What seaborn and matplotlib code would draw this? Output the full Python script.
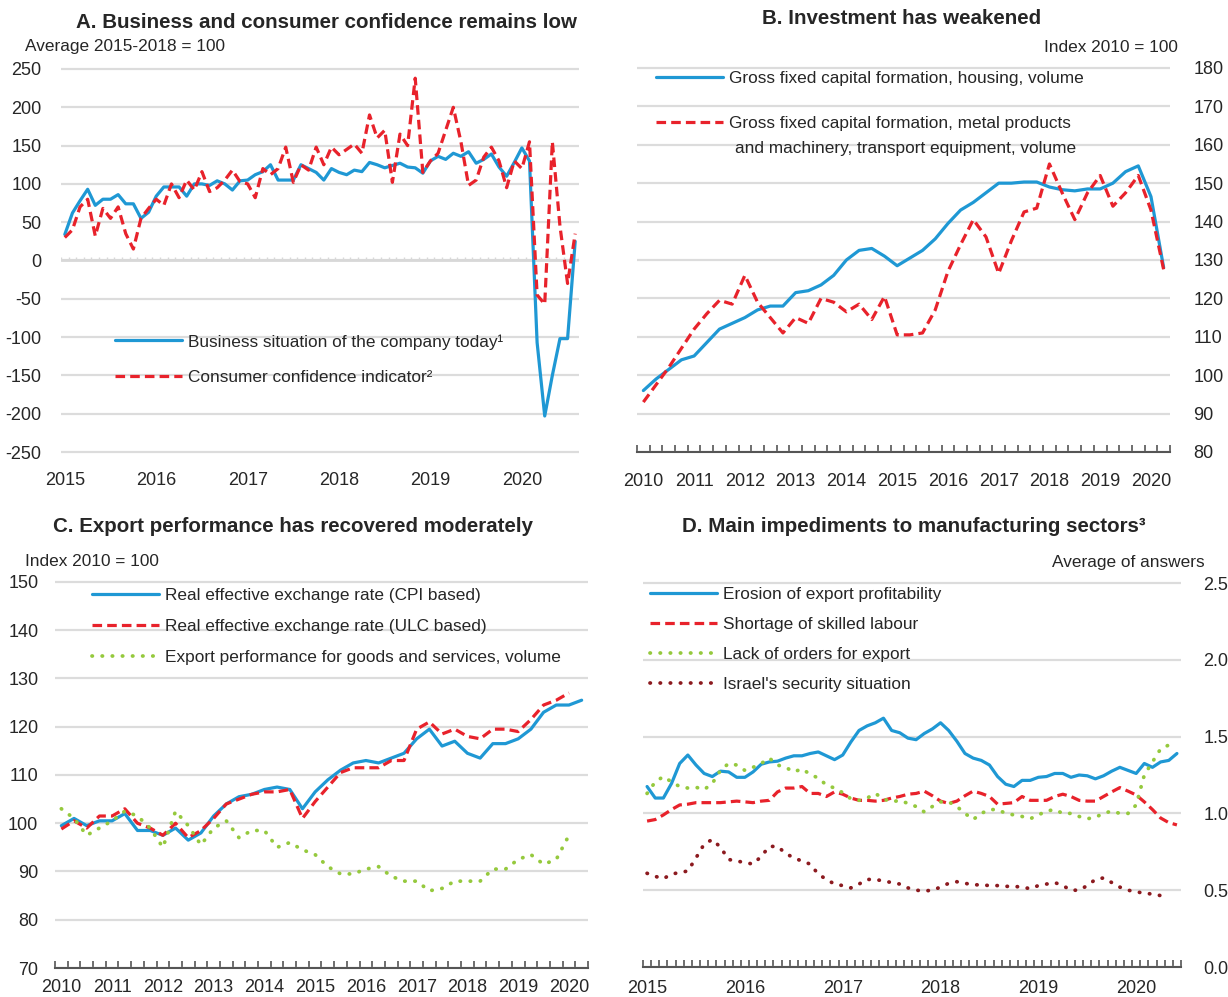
import numpy as np
import pandas as pd
import matplotlib
matplotlib.use('Agg')
import matplotlib.pyplot as plt
import seaborn as sns

# A. monthly, 2015-01 .. 2020-08
years_a = ['2015', '2016', '2017', '2018', '2019', '2020']
business = [34, 62, 78, 93, 72, 80, 80, 86, 74, 74, 55, 63,
            84, 96, 96, 96, 84, 100, 100, 98, 104, 100, 92, 104,
            105, 112, 116, 125, 105, 105, 105, 125, 120, 115, 105, 120,
            115, 112, 118, 116, 128, 125, 121, 124, 127, 122, 121, 114,
            130, 136, 132, 140, 136, 142, 127, 132, 139, 122, 110, 128,
            147, 130, -107, -203, -150, -102, -102, 25]
consumer = [30, 40, 70, 80, 32, 68, 55, 70, 35, 15, 55, 68,
            80, 72, 100, 82, 105, 92, 116, 90, 95, 105, 118, 103,
            100, 82, 120, 112, 120, 148, 102, 125, 118, 148, 125, 148,
            138, 145, 152, 140, 190, 160, 170, 102, 165, 150, 238, 115,
            130, 140, 170, 200, 155, 98, 105, 135, 148, 130, 95, 130,
            120, 155, -45, -57, 155, 45, -30, 35]

# B. quarterly, 2010Q1 .. 2020Q2
years_b = [str(y) for y in range(2010, 2021)]
housing = [96, 99, 101.5, 104, 105, 108.5, 112, 113.5, 115, 117, 118, 118,
           121.5, 122, 123.5, 126, 130, 132.5, 133, 131, 128.5, 130.5, 132.5, 135.5,
           139.5, 143, 145, 147.5, 150, 150, 150.3, 150.3, 149, 148.3, 148, 148.5,
           148.5, 150, 153, 154.5, 146.5, 128]
machinery = [93, 97.5, 102, 107, 112, 116, 119.5, 118.5, 126, 119, 115, 111,
             115, 113.5, 120, 119, 116.5, 118.5, 114.5, 120.5, 110.5, 110.5, 111, 117,
             127, 134, 140.5, 136, 126.5, 135, 142.5, 143.5, 155, 147.5, 140.5, 147.5,
             152, 144, 147.5, 152, 143, 127.5]

# C. quarterly, 2010Q1 .. 2020Q2
years_c = [str(y) for y in range(2010, 2021)]
reer_cpi = [99.5, 101, 99.5, 100.5, 100.5, 102, 98.5, 98.5, 97.5, 99, 96.5, 98,
            101.5, 104, 105.5, 106, 107, 107.5, 107, 103, 106.5, 109, 111, 112.5,
            113, 112.5, 113.5, 114.5, 117.5, 119.5, 116, 117, 114.5, 113.5, 116.5, 116.5,
            117.5, 119.5, 123, 124.5, 124.5, 125.5]
reer_ulc = [98.8, 100.5, 99, 101.5, 101.5, 103, 100, 99, 97.5, 100, 97, 98.5,
            101, 104, 105, 106, 106.5, 106.5, 107, 101, 104.5, 107.5, 110.5, 111.5,
            111.5, 111.5, 113, 113, 119.5, 121, 118.5, 119.5, 118, 117.5, 119.5, 119.5,
            119, 121.5, 124.5, 125.5, 127]
export_perf = [103, 101, 97.5, 99, 100.5, 102.5, 101.5, 99, 95, 102.5, 99.5, 95.5,
               99, 100.5, 97, 98.5, 98.5, 95, 96, 94.5, 93.5, 91, 89.5, 89.5,
               90.5, 91, 89, 88, 88, 86, 86.5, 88, 88, 88, 90.5, 90.5,
               92.5, 93.5, 91.5, 92.5, 97.5]

# D. monthly, 2015-01 .. 2020-06
years_d = ['2015', '2016', '2017', '2018', '2019', '2020']
erosion = [1.175, 1.10, 1.10, 1.195, 1.325, 1.38, 1.315, 1.26, 1.24, 1.275, 1.27, 1.235,
           1.235, 1.27, 1.32, 1.335, 1.34, 1.36, 1.375, 1.375, 1.39, 1.40, 1.375, 1.35,
           1.38, 1.465, 1.54, 1.57, 1.59, 1.62, 1.54, 1.525, 1.49, 1.48, 1.52, 1.55,
           1.59, 1.54, 1.47, 1.39, 1.36, 1.345, 1.315, 1.24, 1.19, 1.175, 1.215, 1.215,
           1.235, 1.24, 1.26, 1.26, 1.235, 1.25, 1.245, 1.225, 1.245, 1.275, 1.30, 1.28,
           1.26, 1.325, 1.30, 1.335, 1.345, 1.39]
skilled = [0.95, 0.96, 0.99, 1.025, 1.055, 1.06, 1.07, 1.07, 1.07, 1.07, 1.075, 1.08,
           1.075, 1.07, 1.08, 1.085, 1.14, 1.165, 1.165, 1.175, 1.13, 1.13, 1.11, 1.14,
           1.125, 1.10, 1.085, 1.085, 1.08, 1.085, 1.10, 1.11, 1.125, 1.13, 1.145, 1.115,
           1.08, 1.065, 1.08, 1.115, 1.145, 1.13, 1.11, 1.06, 1.065, 1.07, 1.11, 1.085,
           1.085, 1.085, 1.11, 1.125, 1.11, 1.085, 1.08, 1.08, 1.11, 1.14, 1.168, 1.145,
           1.12, 1.075, 1.025, 0.97, 0.94, 0.925]
orders = [1.13, 1.205, 1.24, 1.205, 1.175, 1.165, 1.17, 1.155, 1.195, 1.28, 1.325, 1.315,
          1.28, 1.30, 1.325, 1.36, 1.315, 1.30, 1.27, 1.29, 1.255, 1.23, 1.185, 1.165,
          1.135, 1.095, 1.085, 1.10, 1.13, 1.095, 1.075, 1.085, 1.065, 1.045, 1.01, 1.045,
          1.075, 1.075, 1.045, 1.00, 0.96, 1.00, 1.025, 1.025, 1.00, 0.99, 0.98, 0.965,
          0.99, 1.015, 1.025, 1.00, 1.00, 0.98, 0.965, 0.975, 1.00, 1.015, 1.00, 1.00,
          1.055, 1.25, 1.335, 1.42, 1.445, 1.45]
security = [0.61, 0.59, 0.575, 0.605, 0.615, 0.625, 0.71, 0.80, 0.83, 0.78, 0.70, 0.69,
            0.68, 0.67, 0.72, 0.785, 0.785, 0.74, 0.71, 0.69, 0.67, 0.605, 0.57, 0.54,
            0.53, 0.515, 0.54, 0.57, 0.57, 0.56, 0.55, 0.54, 0.515, 0.50, 0.495, 0.50,
            0.52, 0.545, 0.555, 0.545, 0.535, 0.535, 0.53, 0.53, 0.525, 0.525, 0.52, 0.51,
            0.53, 0.54, 0.55, 0.53, 0.50, 0.50, 0.53, 0.57, 0.58, 0.55, 0.52, 0.50,
            0.49, 0.48, 0.475, 0.465, 0.465]

sns.set_theme(style='white')
plt.rcParams['font.family'] = ['Liberation Sans', 'DejaVu Sans']
plt.rcParams['axes.unicode_minus'] = False

BLUE = '#1f98d4'
RED = '#e8222b'
GREEN = '#95c93d'
DARKRED = '#8c1a1f'
GRID = '#dcdcdc'
TXT = '#262626'
SPINE = '#555555'
FS = 13      # tick labels
LFS = 12.4   # legend / unit text

W, H = 1228, 997
fig = plt.figure(figsize=(W / 100, H / 100), dpi=100)


def box(l, t, r, b):
    return [l / W, 1 - b / H, (r - l) / W, (b - t) / H]


solid = dict(lw=2.3)
dashed = dict(lw=2.3, linestyle=(0, (3, 1.6)))
dotted = dict(lw=2.7, linestyle=(0, (0.1, 2.6)), dash_capstyle='round')


def style_axes(ax, n, year_labels, step, side, ylim, yticks, ylab_pad, xlab_pad, spine=True):
    ax.set_xlim(-0.5, n - 0.5)
    ax.set_ylim(*ylim)
    ax.set_yticks(yticks)
    ax.set_xticks(np.arange(0, step * len(year_labels), step))
    ax.set_xticklabels(year_labels)
    ax.grid(False)
    ax.yaxis.grid(True, color=GRID, lw=1.6)
    ax.set_axisbelow(True)
    for s in ['top', 'left', 'right', 'bottom']:
        ax.spines[s].set_visible(False)
    if spine:
        ax.spines['bottom'].set_visible(True)
        ax.spines['bottom'].set_color(SPINE)
        ax.spines['bottom'].set_linewidth(1.5)
        ax.set_xticks(np.arange(-0.5, n, 1), minor=True)
        ax.tick_params(axis='x', which='minor', bottom=True, direction='in',
                       length=5, width=1.2, color=SPINE)
    ax.tick_params(axis='x', which='major', bottom=True, length=0, pad=xlab_pad,
                   labelsize=FS, labelcolor=TXT)
    if side == 'right':
        ax.yaxis.tick_right()
    ax.tick_params(axis='y', length=0, pad=ylab_pad, labelsize=FS, labelcolor=TXT)
    ax.set_xlabel('')
    ax.set_ylabel('')


def legend(ax, x, top, spacing):
    lg = ax.legend(loc='upper left', bbox_to_anchor=(x / W, 1 - top / H),
                   bbox_transform=fig.transFigure, frameon=False, fontsize=LFS,
                   borderpad=0, borderaxespad=0, handlelength=3.9, handletextpad=0.35,
                   labelspacing=spacing)
    for t in lg.get_texts():
        t.set_color(TXT)
    return lg


# Panel A
axA = fig.add_axes(box(61, 64.4, 579, 456.6))
xa = np.arange(len(business))
axA.axhline(0, color='#d8d8d8', lw=2, zorder=1)
axA.vlines(np.arange(-0.5, len(business), 1), 0, 5, color='#d8d8d8', lw=1, zorder=1)
sns.lineplot(x=xa, y=business, ax=axA, color=BLUE, label='Business situation of the company today¹', **solid)
sns.lineplot(x=xa, y=consumer, ax=axA, color=RED, label='Consumer confidence indicator²', **dashed)
style_axes(axA, len(business), years_a, 12, 'left', (-256, 256), np.arange(-250, 251, 50), 14, 11, spine=False)
legend(axA, 115, 334, 1.2)

# Panel B
axB = fig.add_axes(box(637, 62.2, 1170, 452))
xb = np.arange(len(housing))
sns.lineplot(x=xb, y=housing, ax=axB, color=BLUE, label='Gross fixed capital formation, housing, volume', **solid)
sns.lineplot(x=xb, y=machinery, ax=axB, color=RED, label='Gross fixed capital formation, metal products', **dashed)
style_axes(axB, len(housing), years_b, 4, 'right', (80, 181.5), np.arange(80, 181, 10), 17, 15)
legend(axB, 656, 71, 1.75)
fig.text(735 / W, 1 - 148 / H, 'and machinery, transport equipment, volume', fontsize=LFS, color=TXT,
         ha='left', va='center')

# Panel C
axC = fig.add_axes(box(55, 576.2, 588, 968))
xc = np.arange(len(reer_cpi))
sns.lineplot(x=xc, y=reer_cpi, ax=axC, color=BLUE, label='Real effective exchange rate (CPI based)', **solid)
sns.lineplot(x=xc[:len(reer_ulc)], y=reer_ulc, ax=axC, color=RED, label='Real effective exchange rate (ULC based)', **dashed)
sns.lineplot(x=xc[:len(export_perf)], y=export_perf, ax=axC, color=GREEN,
             label='Export performance for goods and services, volume', **dotted)
style_axes(axC, len(reer_cpi), years_c, 4, 'left', (70, 151.2), np.arange(70, 151, 10), 12, 8)
legend(axC, 92, 588, 0.92)

# Panel D
axD = fig.add_axes(box(643, 578.4, 1181, 967))
xd = np.arange(len(erosion))
sns.lineplot(x=xd, y=erosion, ax=axD, color=BLUE, label='Erosion of export profitability', **solid)
sns.lineplot(x=xd, y=skilled, ax=axD, color=RED, label='Shortage of skilled labour', **dashed)
sns.lineplot(x=xd, y=orders, ax=axD, color=GREEN, label='Lack of orders for export', **dotted)
sns.lineplot(x=xd[:len(security)], y=security, ax=axD, color=DARKRED, label="Israel's security situation", **dotted)
style_axes(axD, len(erosion), years_d, 12, 'right', (0, 2.53), np.arange(0, 2.51, 0.5), 16, 9)
axD.set_yticklabels([f'{v:.1f}' for v in np.arange(0, 2.51, 0.5)])
legend(axD, 650, 587, 0.86)

# titles and units
tkw = dict(fontsize=14.8, fontweight='bold', color=TXT, ha='center', va='center')
fig.text(326 / W, 1 - 22 / H, 'A. Business and consumer confidence remains low', **tkw)
fig.text(902 / W, 1 - 18 / H, 'B. Investment has weakened', **tkw)
fig.text(293 / W, 1 - 527 / H, 'C. Export performance has recovered moderately', **tkw)
fig.text(914 / W, 1 - 527 / H, 'D. Main impediments to manufacturing sectors³', **tkw)

ukw = dict(fontsize=LFS, color=TXT, va='center')
fig.text(25 / W, 1 - 46 / H, 'Average 2015-2018 = 100', ha='left', **ukw)
fig.text(1178 / W, 1 - 48 / H, 'Index 2010 = 100', ha='right', **ukw)
fig.text(25 / W, 1 - 562 / H, 'Index 2010 = 100', ha='left', **ukw)
fig.text(1205 / W, 1 - 563 / H, 'Average of answers', ha='right', **ukw)

fig.savefig('out.png', dpi=100)
